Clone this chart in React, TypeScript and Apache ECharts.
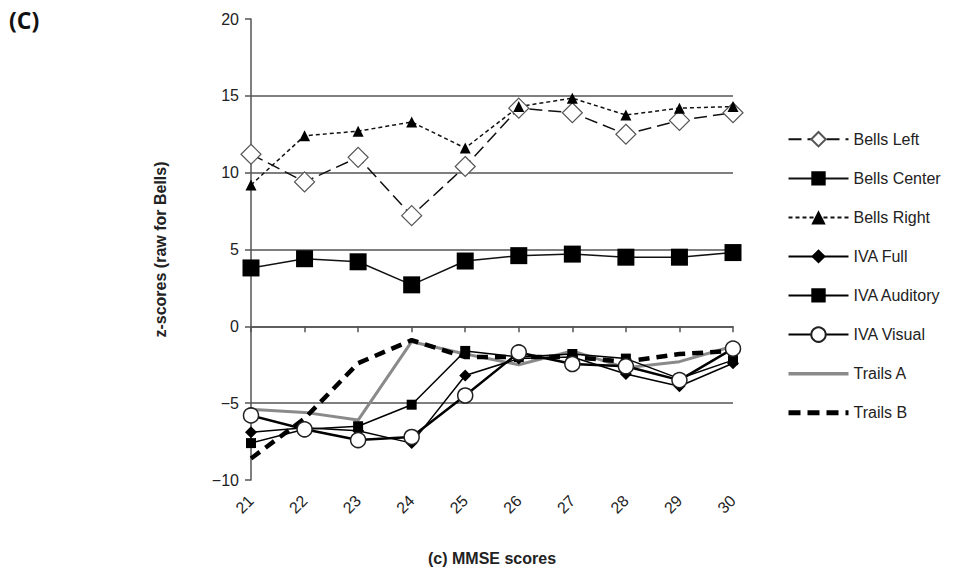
import React, { useEffect, useRef } from "react";
import * as echarts from "echarts";

const categories = ["21", "22", "23", "24", "25", "26", "27", "28", "29", "30"];
const bellsLeft = [11.2, 9.4, 11.0, 7.2, 10.4, 14.2, 13.9, 12.5, 13.4, 13.9];
const bellsCenter = [3.8, 4.4, 4.2, 2.7, 4.25, 4.6, 4.7, 4.5, 4.5, 4.8];
const bellsRight = [9.2, 12.4, 12.7, 13.3, 11.6, 14.3, 14.85, 13.75, 14.2, 14.3];
const ivaFull = [-6.9, -6.6, -6.8, -7.6, -3.2, -2.1, -2.0, -3.1, -3.9, -2.4];
const ivaAuditory = [-7.6, -6.7, -6.5, -5.1, -1.6, -2.0, -1.8, -2.1, -3.4, -2.2];
const ivaVisual = [-5.8, -6.7, -7.4, -7.2, -4.5, -1.7, -2.45, -2.6, -3.5, -1.45];
const trailsA = [-5.4, -5.6, -6.1, -1.0, -1.8, -2.5, -1.6, -2.7, -2.3, -1.3];
const trailsB = [-8.6, -6.0, -2.4, -0.9, -2.0, -2.0, -2.0, -2.3, -1.8, -1.6];

const FONT = "Liberation Sans, Arial, sans-serif";

export default function App() {
  const ref = useRef<HTMLDivElement>(null);
  useEffect(() => {
    if (!ref.current) return;
    const chart = echarts.init(ref.current, undefined, { renderer: "svg" });
    const hidden = { color: "transparent", borderColor: "transparent", borderWidth: 0, opacity: 0 };
    chart.setOption({
      animation: false,
      backgroundColor: "#fff",
      grid: { left: 251, top: 19, right: 234, bottom: 102, containLabel: false },
      graphic: [
        {
          type: "text",
          left: 9,
          top: 8,
          style: { text: "(C)", font: "bold 23px 'Open Sans', sans-serif", fill: "#111" },
        },
      ],
      legend: {
        orient: "vertical",
        left: 781,
        top: 126,
        itemWidth: 60,
        itemHeight: 18,
        itemGap: 23,
        textStyle: { fontFamily: FONT, fontSize: 16, color: "#222" },
        data: [
          "Bells Left",
          "Bells Center",
          "Bells Right",
          "IVA Full",
          "IVA Auditory",
          "IVA Visual",
          { name: "Trails A", itemStyle: hidden, lineStyle: { width: 3.5, color: "#8a8a8a" } },
          { name: "Trails B", itemStyle: hidden, lineStyle: { width: 5, color: "#000", type: [12, 7] } },
        ],
      },
      xAxis: {
        type: "category",
        data: categories,
        boundaryGap: false,
        name: "(c) MMSE scores",
        nameLocation: "middle",
        nameGap: 70,
        nameTextStyle: { fontFamily: FONT, fontSize: 16, fontWeight: "bold", color: "#222" },
        axisLine: { lineStyle: { color: "#555", width: 1.5 } },
        axisTick: { show: true, length: 6, lineStyle: { color: "#555", width: 1.5 } },
        axisLabel: { rotate: 45, fontFamily: FONT, fontSize: 16, color: "#222", margin: 18 },
        splitLine: { show: false },
      },
      yAxis: {
        type: "value",
        min: -10,
        max: 20,
        interval: 5,
        name: "z-scores (raw for Bells)",
        nameLocation: "middle",
        nameGap: 83,
        nameTextStyle: { fontFamily: FONT, fontSize: 16, fontWeight: "bold", color: "#222" },
        axisLine: { show: true, lineStyle: { color: "#555", width: 1.5 } },
        axisTick: { show: true, length: 6, lineStyle: { color: "#555", width: 1.5 } },
        axisLabel: {
          fontFamily: FONT,
          fontSize: 16,
          color: "#222",
          margin: 12,
          formatter: (v: number) => (v < 0 ? "\u2212" + Math.abs(v) : String(v)),
        },
        splitLine: { show: true, showMinLine: false, showMaxLine: false, lineStyle: { color: "#555", width: 1.5 } },
      },
      series: [
        {
          name: "Trails A",
          type: "line",
          data: trailsA,
          symbol: "none",
          lineStyle: { color: "#8a8a8a", width: 3 },
          itemStyle: { color: "#8a8a8a" },
          z: 2,
        },
        {
          name: "Trails B",
          type: "line",
          data: trailsB,
          symbol: "none",
          lineStyle: { color: "#000", width: 4.5, type: [11, 7] },
          itemStyle: { color: "#000" },
          z: 2,
        },
        {
          name: "Bells Left",
          type: "line",
          data: bellsLeft,
          symbol: "diamond",
          symbolSize: 20,
          lineStyle: { color: "#111", width: 1.5, type: [13, 6] },
          itemStyle: { color: "#fff", borderColor: "#555", borderWidth: 1.2 },
          z: 3,
        },
        {
          name: "Bells Center",
          type: "line",
          data: bellsCenter,
          symbol: "rect",
          symbolSize: 17,
          lineStyle: { color: "#111", width: 1.5 },
          itemStyle: { color: "#000" },
          z: 3,
        },
        {
          name: "Bells Right",
          type: "line",
          data: bellsRight,
          symbol: "triangle",
          symbolSize: 11,
          lineStyle: { color: "#111", width: 1.5, type: [4, 3] },
          itemStyle: { color: "#000" },
          z: 3,
        },
        {
          name: "IVA Full",
          type: "line",
          data: ivaFull,
          symbol: "diamond",
          symbolSize: 12,
          lineStyle: { color: "#000", width: 1.5 },
          itemStyle: { color: "#000" },
          z: 3,
        },
        {
          name: "IVA Auditory",
          type: "line",
          data: ivaAuditory,
          symbol: "rect",
          symbolSize: 10,
          lineStyle: { color: "#000", width: 1.5 },
          itemStyle: { color: "#000" },
          z: 3,
        },
        {
          name: "IVA Visual",
          type: "line",
          data: ivaVisual,
          symbol: "circle",
          symbolSize: 15,
          lineStyle: { color: "#000", width: 2.5 },
          itemStyle: { color: "#fff", borderColor: "#222", borderWidth: 1.5 },
          z: 4,
        },
      ],
    });
    return () => chart.dispose();
  }, []);
  return <div ref={ref} style={{ width: 967, height: 582, position: "absolute", left: 0, top: 0 }} />;
}
